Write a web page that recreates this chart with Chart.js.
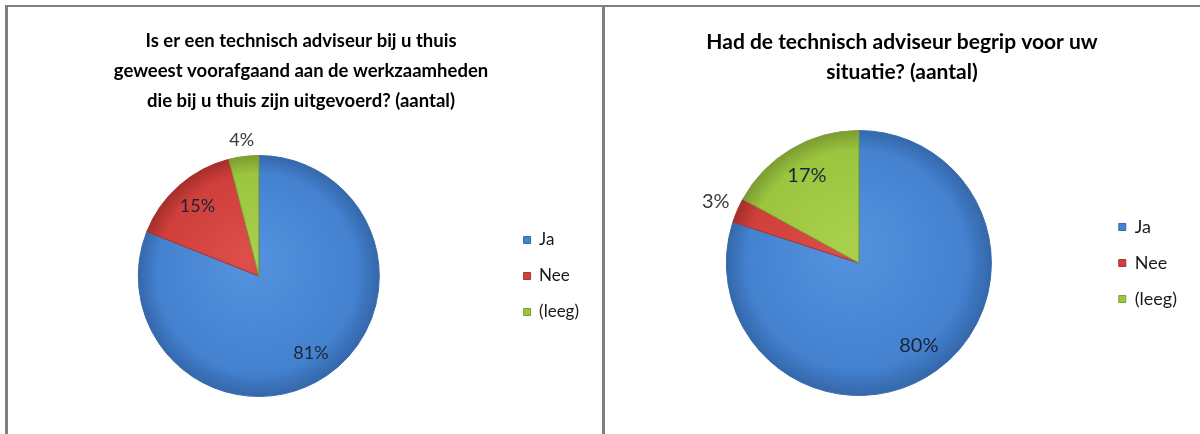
<!DOCTYPE html>
<html>
<head>
<meta charset="utf-8">
<script src="https://cdn.jsdelivr.net/npm/chart.js@4.4.1/dist/chart.umd.min.js"></script>
<style>
html, body { margin: 0; padding: 0; background: #fff; }
#page { position: relative; width: 1200px; height: 434px; overflow: hidden; }
.line { position: absolute; background: #7f7f7f; }
.box { position: absolute; top: 7px; height: 427px; }
</style>
</head>
<body>
<div id="page">
  <div class="line" style="left:5px;top:5px;width:1195px;height:2px"></div>
  <div class="line" style="left:5px;top:5px;width:3px;height:429px"></div>
  <div class="line" style="left:602px;top:5px;width:3px;height:429px"></div>
  <div class="box" style="left:8px;width:594px"><canvas id="chartLeft"></canvas></div>
  <div class="box" style="left:605px;width:595px"><canvas id="chartRight"></canvas></div>
</div>
<script>
// data
const categories = ['Ja', 'Nee', '(leeg)'];

const titleLeft = [
    'Is er een technisch adviseur bij u thuis',
    'geweest voorafgaand aan de werkzaamheden',
    'die bij u thuis zijn uitgevoerd? (aantal)',
];
const valuesLeft = [81, 15, 4];

const titleRight = ['Had de technisch adviseur begrip voor uw', 'situatie? (aantal)'];
const valuesRight = [80, 3, 17];

// styles
const sliceLight = ['#5592de', '#dc4f4a', '#a8d04c'];
const sliceColors = ['#4482d0', '#cf3f3b', '#9bc43f'];
const sliceEdges = ['#3467aa', '#a32e2b', '#7b9b30'];
const sliceBorders = ['#3a6cab', '#a8332f', '#7f9f36'];

// radial shading so the pie looks like the office one
const sliceFill = (context) => {
    const i = context.dataIndex;
    const area = context.chart.chartArea;
    if (!area) {
        return sliceColors[i];
    }
    const cx = (area.left + area.right) / 2;
    const cy = (area.top + area.bottom) / 2;
    const r = Math.min(area.width, area.height) / 2;
    const g = context.chart.ctx.createRadialGradient(cx - r * 0.1, cy - r * 0.15, 0, cx, cy, r);
    g.addColorStop(0, sliceLight[i]);
    g.addColorStop(0.82, sliceColors[i]);
    g.addColorStop(1, sliceEdges[i]);
    return g;
};

// percentage labels, small slices go outside
const sliceLabels = {
    id: 'sliceLabels',
    afterDatasetsDraw(chart, args, opts) {
        const ctx = chart.ctx;
        const meta = chart.getDatasetMeta(0);
        const data = chart.data.datasets[0].data;
        const total = data.reduce((a, b) => a + b, 0);
        ctx.save();
        ctx.font = opts.size + 'px Lato';
        ctx.textAlign = 'center';
        ctx.textBaseline = 'middle';
        meta.data.forEach((arc, i) => {
            const p = arc.getProps(['x', 'y', 'startAngle', 'endAngle', 'outerRadius'], true);
            const share = data[i] / total;
            const text = Math.round(share * 100) + '%';
            const mid = (p.startAngle + p.endAngle) / 2;
            const dx = Math.cos(mid);
            const dy = Math.sin(mid);
            let dist;
            if (share < 0.05) {
                const w = ctx.measureText(text).width;
                dist = p.outerRadius + 8 + Math.abs(dx) * w / 2 + Math.abs(dy) * 7;
                ctx.fillStyle = '#3a3a3a';
            } else {
                dist = p.outerRadius * 0.77;
                ctx.fillStyle = '#1c2438';
            }
            ctx.fillText(text, p.x + dx * dist, p.y + dy * dist);
        });
        ctx.restore();
    },
};

const legendLabels = (chart) => {
    const items = Chart.overrides.pie.plugins.legend.labels.generateLabels(chart);
    items.forEach((item, i) => {
        item.fillStyle = sliceColors[i];
        item.strokeStyle = sliceBorders[i];
        item.lineWidth = 1;
    });
    return items;
};

const makePie = (id, title, values, pad, fonts) => {
    const config = {
        type: 'pie',
        data: {
            labels: categories,
            datasets: [
                {
                    data: values,
                    backgroundColor: sliceFill,
                    borderColor: sliceBorders,
                    borderWidth: 1,
                    hoverOffset: 0,
                },
            ],
        },
        options: {
            responsive: true,
            maintainAspectRatio: false,
            animation: false,
            layout: { padding: pad.layout },
            plugins: {
                title: {
                    display: true,
                    text: title,
                    color: '#000000',
                    font: { family: 'Lato', size: fonts.title, weight: 'bold', lineHeight: 30 / fonts.title },
                    padding: pad.title,
                },
                legend: {
                    position: 'right',
                    fullSize: false,
                    labels: {
                        color: '#1a1a1a',
                        font: { family: 'Lato', size: fonts.legend },
                        boxWidth: 7,
                        boxHeight: 7,
                        padding: 36 - fonts.legend,
                        generateLabels: legendLabels,
                    },
                },
                tooltip: { enabled: false },
                sliceLabels: { size: fonts.label },
            },
        },
        plugins: [sliceLabels],
    };
    return new Chart(document.getElementById(id), config);
};

makePie(
    'chartLeft',
    titleLeft,
    valuesLeft,
    {
        layout: { left: 5, right: 13, top: 0, bottom: 37 },
        title: { top: 19, bottom: 39 },
    },
    { title: 18.5, legend: 17, label: 18 }
);
makePie(
    'chartRight',
    titleRight,
    valuesRight,
    {
        layout: { left: 12, right: 13, top: 0, bottom: 38 },
        title: { top: 20, bottom: 43 },
    },
    { title: 21, legend: 18, label: 20 }
);
</script>
</body>
</html>
